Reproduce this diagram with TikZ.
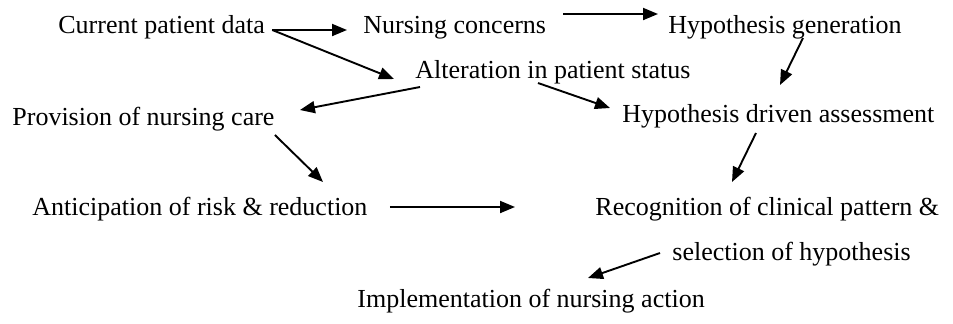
\documentclass[tikz,border=0pt]{standalone}
\usepackage{fontspec}
\setmainfont{Liberation Serif}
\usetikzlibrary{arrows.meta,calc}
\begin{document}
\begin{tikzpicture}[x=0.5pt,y=-0.5pt,
        lbl/.style={anchor=base west, inner sep=0pt, font=\fontsize{13}{15}\selectfont},
        arr/.style={-{Triangle[length=7.5pt,width=6pt]}, line width=0.95pt}]
            \useasboundingbox (0,0) rectangle (953,323);
            % labels
            \node[lbl] (cur) at (58,33) {Current patient data};
            \node[lbl] (nc) at (363,33) {Nursing concerns};
            \node[lbl] (hg) at (668,33) {Hypothesis generation};
            \node[lbl] (alt) at (415,78) {Alteration in patient status};
            \node[lbl] (prov) at (12,125) {Provision of nursing care};
            \node[lbl] (hda) at (622,122) {Hypothesis driven assessment};
            \node[lbl] (ant) at (32,215) {Anticipation of risk \& reduction};
            \node[lbl] (rec) at (595,215) {Recognition of clinical pattern \&};
            \node[lbl] (sel) at (672,260) {selection of hypothesis};
            \node[lbl] (impl) at (357,307) {Implementation of nursing action};
            \coordinate (gap) at (515,207);   %loose end
            % arrows
            \draw[arr] ($(cur.base east)+(7,-3)$) -- ($(nc.base west)+(-16,-3)$);
            \draw[arr] ($(cur.base east)+(7,-3)$) -- ($(alt.base west)+(-21,1)$);
            \draw[arr] ($(nc.base east)+(17,-19)$) -- ($(hg.base west)+(-10,-19)$);
            \draw[arr] ($(hg.base west)+(135,5)$) -- ($(hda.base west)+(158,-37)$);
            \draw[arr] ($(alt.base west)+(123,5)$) -- ($(hda.base west)+(-12,-14)$);
            \draw[arr] ($(alt.base west)+(5,9)$) -- ($(prov.base east)+(25,-15)$);
            \draw[arr] ($(prov.base east)+(0,10)$) -- ($(ant.base west)+(291,-33)$);
            \draw[arr] ($(hda.base west)+(134,11)$) -- ($(rec.base west)+(137,-33)$);
            \draw[arr] ($(ant.base east)+(22,-8)$) -- (gap);
            \draw[arr] ($(sel.base west)+(-12,-7)$) -- ($(impl.base west)+(231,-29)$);
\end{tikzpicture}
\end{document}
